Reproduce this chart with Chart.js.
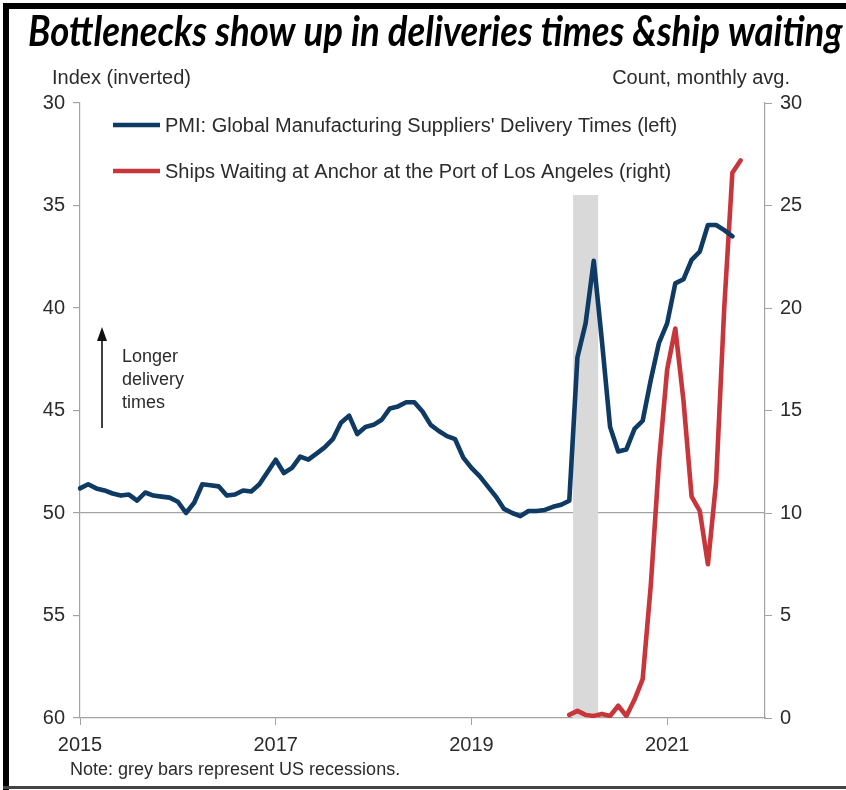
<!DOCTYPE html>
<html><head><meta charset="utf-8">
<script src="https://cdn.jsdelivr.net/npm/chart.js@4.4.0/dist/chart.umd.min.js"></script>
<style>
html,body{margin:0;padding:0;background:#fff;}
canvas{display:block;}
</style></head><body>
<canvas id="c" width="846" height="790"></canvas>
<script>
// ---------- DATA ----------
const firstMonth = [2015, 1];
const lastMonth = [2022, 1];
const yearTicks = ['2015', '2017', '2019', '2021'];

// PMI: Global Manufacturing Suppliers' Delivery Times (left, inverted), Jan 2015 - Sep 2021
const pmiDelivery = [
  48.8, 48.6, 48.8, 48.9, 49.05, 49.15, 49.1, 49.4, 49.0, 49.15, 49.2, 49.25,
  49.45, 50.0, 49.5, 48.6, 48.65, 48.7, 49.15, 49.1, 48.9, 48.95, 48.6, 48.0,
  47.4, 48.05, 47.8, 47.25, 47.4, 47.1, 46.8, 46.4, 45.6, 45.25, 46.15, 45.8,
  45.7, 45.45, 44.9, 44.8, 44.6, 44.6, 45.05, 45.7, 46.0, 46.25, 46.4, 47.3,
  47.8, 48.2, 48.7, 49.2, 49.8, 50.0, 50.15, 49.9, 49.9, 49.85, 49.7, 49.6,
  49.4, 42.4, 40.75, 37.7, 41.6, 45.8, 47.0, 46.9, 45.9, 45.5, 43.5, 41.7,
  40.75, 38.8, 38.6, 37.65, 37.25, 35.95, 35.95, 36.2, 36.5
];

// Ships waiting at anchor, Port of Los Angeles (right), from Jan 2020
const shipsStart = '2020-01';
const shipsWaiting = [
  0.15, 0.35, 0.15, 0.1, 0.2, 0.1, 0.6, 0.1, 0.9, 1.9, 6.5, 12.5,
  17.0, 19.0, 15.5, 10.8, 10.1, 7.5, 11.5, 20.0, 26.6, 27.2
];

// US recession (grey bar)
const recessionMonths = ['2020-02', '2020-03', '2020-04'];
const recessionRange = [34.5, 60];

const seriesNames = [
  "PMI: Global Manufacturing Suppliers' Delivery Times (left)",
  "Ships Waiting at Anchor at the Port of Los Angeles (right)"
];

// ---------- BUILD ----------
const labels = [];
for (let y = firstMonth[0], m = firstMonth[1]; y < lastMonth[0] || (y === lastMonth[0] && m <= lastMonth[1]); ) {
  labels.push(y + '-' + String(m).padStart(2, '0'));
  m++; if (m > 12) { m = 1; y++; }
}
const pmiData = labels.map((l, i) => i < pmiDelivery.length ? pmiDelivery[i] : null);
const sIdx = labels.indexOf(shipsStart);
const shipData = labels.map((l, i) => (i >= sIdx && i - sIdx < shipsWaiting.length) ? shipsWaiting[i - sIdx] : null);
const recData = labels.map(l => recessionMonths.includes(l) ? recessionRange : null);

const isYearTick = i => labels[i] && labels[i].endsWith('-01') && yearTicks.includes(labels[i].slice(0, 4));

const NAVY = '#0e3a64', RED = '#c8363b', AXIS = '#a3a3a3', TXT = '#2b2b2b';
const FONT = "'Liberation Sans', Arial, sans-serif";

const annot = {
  id: 'annot',
  beforeDraw(chart) {
    const c = chart.ctx;
    c.save(); c.fillStyle = '#fff'; c.fillRect(0, 0, chart.width, chart.height); c.restore();
  },
  afterDraw(chart) {
    const c = chart.ctx;
    c.save();
    // frame
    c.fillStyle = '#000';
    c.fillRect(3, 3, chart.width - 3, 6);
    c.fillRect(3, 3, 6, chart.height - 3);
    c.fillStyle = '#444';
    c.fillRect(3, chart.height - 4, chart.width - 3, 3);

    // title
    const title = 'Bottlenecks show up in deliveries times &ship waiting';
    c.fillStyle = '#000';
    c.font = "italic bold 36px Lato";
    const w = c.measureText(title).width;
    const fs = 36 * 815 / w;
    c.font = "italic bold " + fs.toFixed(2) + "px Lato";
    c.textBaseline = 'alphabetic';
    c.textAlign = 'left';
    c.save();
    c.translate(28, 46);
    c.scale(1, 1.15);
    c.fillText(title, 0, 0);
    c.restore();

    // axis titles
    c.fillStyle = TXT;
    c.font = "20px " + FONT;
    c.textAlign = 'left';
    c.fillText('Index (inverted)', 52, 84);
    c.textAlign = 'right';
    c.fillText('Count, monthly avg.', 790, 84);

    // legend
    const ds = chart.data.datasets;
    const legY = [125, 171];
    [0, 1].forEach(k => {
      c.strokeStyle = ds[k].borderColor;
      c.lineWidth = 4.6;
      c.beginPath(); c.moveTo(113, legY[k]); c.lineTo(160, legY[k]); c.stroke();
      c.fillStyle = TXT;
      c.textAlign = 'left'; c.textBaseline = 'middle';
      c.font = "20px " + FONT;
      c.fillText(ds[k].label, 165, legY[k] + 1);
    });

    // arrow + note
    c.strokeStyle = '#111'; c.fillStyle = '#111'; c.lineWidth = 1.6;
    c.beginPath(); c.moveTo(102, 428); c.lineTo(102, 338); c.stroke();
    c.beginPath(); c.moveTo(102, 327); c.lineTo(97, 341); c.lineTo(107, 341); c.closePath(); c.fill();
    c.fillStyle = TXT; c.font = "18px " + FONT; c.textAlign = 'left'; c.textBaseline = 'middle';
    c.fillText('Longer', 122, 357);
    c.fillText('delivery', 122, 380);
    c.fillText('times', 122, 403);

    c.font = "18px " + FONT;
    c.fillText('Note: grey bars represent US recessions.', 70, 770);
    c.restore();
  }
};

new Chart(document.getElementById('c'), {
  data: {
    labels: labels,
    datasets: [
      { type: 'line', label: seriesNames[0], data: pmiData, yAxisID: 'y', borderColor: NAVY, borderWidth: 4.6,
        pointRadius: 0, tension: 0, borderJoinStyle: 'round', borderCapStyle: 'round', order: 1, spanGaps: false },
      { type: 'line', label: seriesNames[1], data: shipData, yAxisID: 'y2', borderColor: RED, borderWidth: 4.6,
        pointRadius: 0, tension: 0, borderJoinStyle: 'round', borderCapStyle: 'round', order: 2 },
      { type: 'bar', label: 'US recession', data: recData, yAxisID: 'y', backgroundColor: '#d9d9d9',
        barPercentage: 1, categoryPercentage: 1, order: 10 }
    ]
  },
  options: {
    responsive: false, animation: false,
    layout: { padding: { top: 103, left: 0, right: 0, bottom: 0 } },
    plugins: { legend: { display: false }, tooltip: { enabled: false } },
    scales: {
      x: {
        type: 'category', offset: false,
        grid: { display: true, offset: false, drawOnChartArea: false, drawTicks: true, tickLength: 7,
          tickColor: ctx => isYearTick(ctx.index) ? AXIS : 'rgba(0,0,0,0)' },
        border: { color: AXIS, width: 1.2 },
        ticks: { autoSkip: false, maxRotation: 0, minRotation: 0, padding: 8, color: TXT,
          font: { family: FONT, size: 20 },
          callback: (v, i) => isYearTick(i) ? labels[i].slice(0, 4) : '' },
        afterFit: s => { s.height = 72; }
      },
      y: {
        position: 'left', reverse: true, min: 30, max: 60,
        ticks: { stepSize: 5, color: TXT, padding: 8, font: { family: FONT, size: 20 } },
        grid: { drawOnChartArea: true, tickLength: 7, tickColor: AXIS,
          color: ctx => (ctx.tick && ctx.tick.value === 50) ? AXIS : 'rgba(0,0,0,0)', lineWidth: 1.2 },
        border: { color: AXIS, width: 1.2 },
        afterFit: s => { s.width = 80; }
      },
      y2: {
        position: 'right', min: 0, max: 30,
        ticks: { stepSize: 5, color: TXT, padding: 8, font: { family: FONT, size: 20 } },
        grid: { drawOnChartArea: false, tickLength: 7, tickColor: AXIS },
        border: { color: AXIS, width: 1.2 },
        afterFit: s => { s.width = 81; }
      }
    }
  },
  plugins: [annot]
});
</script>
</body></html>
